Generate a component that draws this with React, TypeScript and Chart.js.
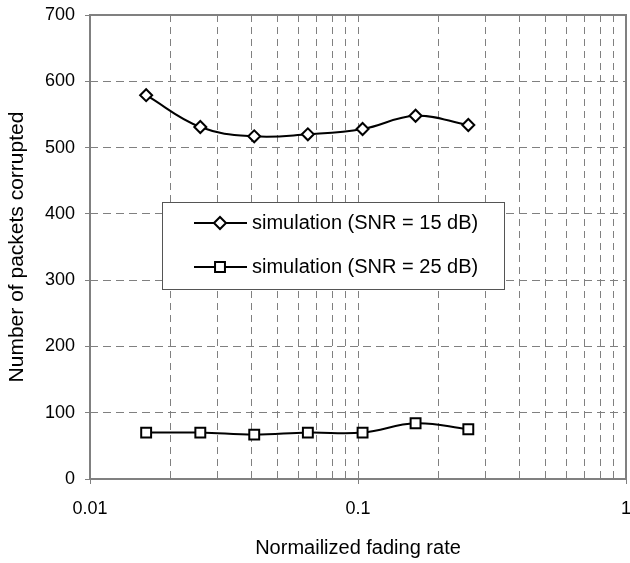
import React, { useEffect, useRef } from "react";
import { Chart, registerables } from "chart.js";

Chart.register(...registerables);

const fadingRate = [0.0162, 0.0258, 0.041, 0.065, 0.104, 0.164, 0.258];
const snr15 = [579, 531, 517, 520, 528, 548, 534];
const snr25 = [70, 70, 67, 70, 70, 84, 75];
const seriesLabels = ["simulation (SNR = 15 dB)", "simulation (SNR = 25 dB)"];
const xTickValues = [
  0.01, 0.02, 0.03, 0.04, 0.05, 0.06, 0.07, 0.08, 0.09,
  0.1, 0.2, 0.3, 0.4, 0.5, 0.6, 0.7, 0.8, 0.9, 1,
];
const yMin = 0;
const yMax = 700;
const yStep = 100;
const xTitle = "Normailized fading rate";
const yTitle = "Number of packets corrupted";

const FONT = "'Liberation Sans', Arial, sans-serif";
const GRID = "#808080";
const CANVAS_W = 635;
const CANVAS_H = 563;

const isDecade = (v: number) => Math.abs(Math.log10(v) - Math.round(Math.log10(v))) < 1e-9;

function drawMarker(ctx: CanvasRenderingContext2D, style: string, x: number, y: number, r: number) {
  ctx.beginPath();
  if (style === "rectRot") {
    ctx.moveTo(x - r, y);
    ctx.lineTo(x, y - r);
    ctx.lineTo(x + r, y);
    ctx.lineTo(x, y + r);
    ctx.closePath();
  } else {
    const s = r * Math.SQRT1_2;
    ctx.rect(x - s, y - s, 2 * s, 2 * s);
  }
  ctx.fillStyle = "#fff";
  ctx.fill();
  ctx.lineWidth = 2;
  ctx.strokeStyle = "#000";
  ctx.stroke();
}

const framePlugin = {
  id: "frame",
  beforeDatasetsDraw(chart: any) {
    const { ctx, chartArea: a } = chart;
    ctx.save();
    ctx.strokeStyle = GRID;
    ctx.lineWidth = 2;
    ctx.strokeRect(a.left, a.top, a.right - a.left, a.bottom - a.top);
    ctx.restore();
  },
};

const legendPlugin = {
  id: "boxLegend",
  afterDatasetsDraw(chart: any) {
    const ctx: CanvasRenderingContext2D = chart.ctx;
    const bx = 162, by = 202, bw = 342, bh = 87;
    ctx.save();
    ctx.fillStyle = "#fff";
    ctx.fillRect(bx, by, bw, bh);
    ctx.strokeStyle = "#555";
    ctx.lineWidth = 1;
    ctx.strokeRect(bx + 0.5, by + 0.5, bw, bh);
    const rows = [by + 21, by + 65];
    chart.data.datasets.forEach((ds: any, i: number) => {
      const y = rows[i];
      ctx.beginPath();
      ctx.moveTo(bx + 32, y);
      ctx.lineTo(bx + 85, y);
      ctx.strokeStyle = "#000";
      ctx.lineWidth = 2;
      ctx.stroke();
      drawMarker(ctx, ds.pointStyle, bx + 58, y, ds.pointRadius);
      ctx.fillStyle = "#000";
      ctx.font = `20px ${FONT}`;
      ctx.textBaseline = "middle";
      ctx.textAlign = "left";
      ctx.fillText(ds.label, bx + 90, y);
    });
    ctx.restore();
  },
};

export default function App() {
  const ref = useRef<HTMLCanvasElement | null>(null);

  useEffect(() => {
    document.body.style.margin = "0";
    if (!ref.current) return;
    const chart = new Chart(ref.current, {
      type: "line",
      data: {
        datasets: [
          {
            label: seriesLabels[0],
            data: fadingRate.map((x, i) => ({ x, y: snr15[i] })),
            borderColor: "#000",
            borderWidth: 2,
            tension: 0.4,
            pointStyle: "rectRot",
            pointRadius: 6,
            pointBackgroundColor: "#fff",
            pointBorderColor: "#000",
            pointBorderWidth: 2,
          },
          {
            label: seriesLabels[1],
            data: fadingRate.map((x, i) => ({ x, y: snr25[i] })),
            borderColor: "#000",
            borderWidth: 2,
            tension: 0.4,
            pointStyle: "rect",
            pointRadius: 7,
            pointBackgroundColor: "#fff",
            pointBorderColor: "#000",
            pointBorderWidth: 2,
          },
        ],
      },
      options: {
        animation: false,
        responsive: false,
        layout: { padding: { top: 15, right: 0, left: 0, bottom: 0 } },
        plugins: { legend: { display: false }, tooltip: { enabled: false } },
        scales: {
          x: {
            type: "logarithmic",
            min: 0.01,
            max: 1,
            afterBuildTicks: (scale: any) => {
              scale.ticks = xTickValues.map((v) => ({ value: v }));
            },
            afterFit: (scale: any) => {
              scale.height = 84;
              scale.paddingLeft = 0;
              scale.paddingRight = 0;
            },
            ticks: {
              autoSkip: false,
              maxRotation: 0,
              padding: 14,
              color: "#000",
              font: { family: FONT, size: 18 },
              callback: (v: any) => (isDecade(Number(v)) ? String(Number(v)) : ""),
            },
            grid: {
              color: GRID,
              lineWidth: 1,
              tickLength: 5,
              tickWidth: 1,
              tickColor: (c: any) => (c.tick && isDecade(c.tick.value) ? GRID : "rgba(0,0,0,0)"),
              tickBorderDash: [],
            },
            border: { display: false, dash: [7, 5] },
            title: {
              display: true,
              text: xTitle,
              color: "#000",
              font: { family: FONT, size: 20 },
              padding: { top: 0, bottom: 3 },
            },
          },
          y: {
            type: "linear",
            min: yMin,
            max: yMax,
            afterFit: (scale: any) => {
              scale.width = 90;
              scale.paddingTop = 0;
              scale.paddingBottom = 0;
            },
            ticks: {
              stepSize: yStep,
              padding: 10,
              color: "#000",
              font: { family: FONT, size: 18 },
            },
            grid: {
              color: GRID,
              lineWidth: 1,
              tickLength: 5,
              tickColor: GRID,
              tickBorderDash: [],
            },
            border: { display: false, dash: [8, 5] },
            title: {
              display: true,
              text: yTitle,
              color: "#000",
              font: { family: FONT, size: 21 },
              padding: { top: 5, bottom: 0 },
            },
          },
        },
      },
      plugins: [framePlugin, legendPlugin],
    } as any);
    return () => chart.destroy();
  }, []);

  return (
    <div style={{ width: 630, height: 563, position: "relative", overflow: "hidden" }}>
      <canvas
        ref={ref}
        width={CANVAS_W}
        height={CANVAS_H}
        style={{ width: CANVAS_W, height: CANVAS_H, display: "block" }}
      />
    </div>
  );
}
